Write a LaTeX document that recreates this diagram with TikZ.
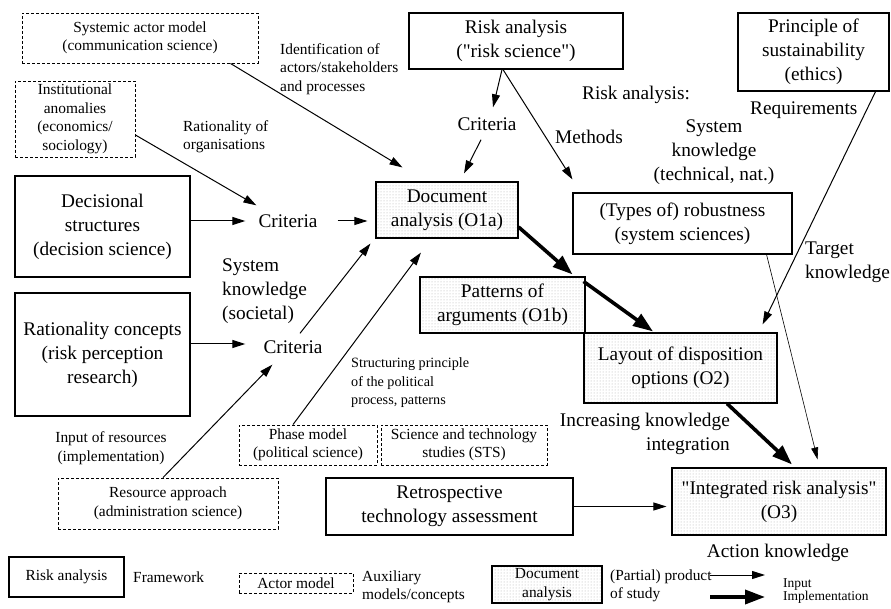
\documentclass[tikz,border=0pt]{standalone}
\usepackage{fontspec}
\setmainfont{Liberation Serif}[Ligatures=TeXOff]
\usetikzlibrary{arrows.meta,patterns}

\newcommand\bigsz{\fontsize{19.3}{24}\selectfont}
\newcommand\midsz{\fontsize{15.4}{18.5}\selectfont}
\newcommand\smallsz{\fontsize{14.2}{18.5}\selectfont}
\newcommand\tinysz{\fontsize{13.5}{13.5}\selectfont}

\tikzset{
  every node/.style={inner sep=0pt, align=center},
  bigtxt/.style={font=\bigsz},
  midtxt/.style={font=\midsz},
  smalltxt/.style={font=\smallsz},
  tinytxt/.style={font=\tinysz},
  frame/.style={draw, line width=1.1pt},
  auxbox/.style={draw, line width=0.9pt, dash pattern=on 3pt off 2pt},
  product/.style={draw, line width=1.1pt, pattern=dots, pattern color=gray!65},
  inarrow/.style={line width=1pt, -{Triangle[length=13pt,width=8pt]}},
  thinarrow/.style={line width=0.6pt, -{Triangle[length=12pt,width=7pt]}},
  implarrow/.style={line width=3.6pt, -{Triangle[length=20pt,width=14pt]}},
}

\begin{document}
\begin{tikzpicture}[x=1pt,y=-1pt]
\useasboundingbox (0,0) rectangle (891,609);

% ---------- framework disciplines (solid) ----------
\node[frame, bigtxt, minimum width=175pt, minimum height=101pt] (decis) at (102.5,226.5)
  {Decisional\\structures\\(decision science)};
\node[frame, bigtxt, minimum width=175pt, minimum height=123pt] (ratcon) at (102.5,354.5)
  {Rationality concepts\\(risk perception\\research)};
\node[frame, bigtxt, minimum width=214pt, minimum height=56pt] (riskan) at (516,41)
  {Risk analysis\\("risk science")};
\node[frame, bigtxt, minimum width=151pt, minimum height=78pt] (sustain) at (813.5,52)
  {Principle of\\sustainability\\(ethics)};
\node[frame, bigtxt, minimum width=219pt, minimum height=61pt] (robust) at (682.5,223.5)
  {(Types of) robustness\\(system sciences)};
\node[frame, bigtxt, minimum width=247pt, minimum height=57pt] (retro) at (449.5,506.5)
  {Retrospective\\technology assessment};

% ---------- auxiliary models (dashed) ----------
\node[auxbox, midtxt, minimum width=236pt, minimum height=50pt] (sysact) at (140,38)
  {Systemic actor model\\(communication science)};
\node[auxbox, midtxt, minimum width=120pt, minimum height=76pt] (instanom) at (75,119)
  {Institutional\\anomalies\\(economics/\\sociology)};
\node[auxbox, midtxt, minimum width=138pt, minimum height=40pt] (phase) at (308,445)
  {Phase model\\(political science)};
\node[auxbox, midtxt, minimum width=166pt, minimum height=40pt] (sts) at (464,445)
  {Science and technology\\studies (STS)};
\node[auxbox, midtxt, minimum width=220pt, minimum height=51pt] (resource) at (168,503.5)
  {Resource approach\\(administration science)};

% ---------- products of the study (dotted) ----------
\node[product, bigtxt, minimum width=142pt, minimum height=56pt] (doc) at (447,210)
  {Document\\analysis (O1a)};
\node[product, bigtxt, minimum width=165pt, minimum height=56pt] (patt) at (502.5,305)
  {Patterns of\\arguments (O1b)};
\node[product, bigtxt, minimum width=193pt, minimum height=70pt] (layout) at (680.5,368)
  {Layout of disposition\\options (O2)};
\node[product, bigtxt, minimum width=214pt, minimum height=67pt] (o3) at (779,501.5)
  {"Integrated risk analysis"\\(O3)};

% ---------- criteria ----------
\node[bigtxt] (crit1) at (288,221) {Criteria};
\node[bigtxt] (crit2) at (487,124) {Criteria};
\node[bigtxt] (crit3) at (293,347) {Criteria};

% ---------- labels ----------
\node[midtxt, anchor=west, align=left] (lblident) at (280,69)
  {Identification of\\actors/stakeholders\\and processes};
\node[midtxt, anchor=west, align=left] (lblratorg) at (183,136.5)
  {Rationality of\\organisations};
\node[bigtxt, anchor=west, align=left] (lblsyssoc) at (222,291)
  {System\\knowledge\\(societal)};
\node[bigtxt, anchor=west] (lblra) at (582,95) {Risk analysis:};
\node[bigtxt, anchor=west] (lblreq) at (750,110) {Requirements};
\node[bigtxt, anchor=west] (lblmeth) at (555,137) {Methods};
\node[bigtxt] (lblsystech) at (714,152) {System\\knowledge\\(technical, nat.)};
\node[bigtxt, anchor=west, align=left] (lbltarget) at (805,262.5) {Target\\knowledge};
\node[bigtxt, anchor=east, align=right] (lblincr) at (730,433.5)
  {Increasing knowledge\\integration};
\node[bigtxt] (lblaction) at (778,553) {Action knowledge};
\node[smalltxt, anchor=west, align=left] (lblstruct) at (351,383)
  {Structuring principle\\of the political\\process, patterns};
\node[midtxt] (lblinput) at (111,448) {Input of resources\\(implementation)};

% ---------- input connectors ----------
\draw[inarrow] ([xshift=-28pt]sysact.south east) -- ([xshift=27pt,yshift=14pt]doc.north west);
\draw[inarrow] ([yshift=-16pt]instanom.east) -- ([xshift=-2pt,yshift=9pt]crit1.north west);
\draw[inarrow] (decis.east |- crit1.west) -- ([xshift=-13pt]crit1.west);
\draw[inarrow, shorten >=8pt] ([xshift=20pt]crit1.east) -- (doc.west |- crit1.east);
\draw[inarrow] ([xshift=-14pt]riskan.south) -- ([xshift=6pt,yshift=10pt]crit2.north);
\draw[inarrow] ([xshift=-6pt,yshift=-9pt]crit2.south) -- ([xshift=17pt,yshift=8pt]doc.north);
\draw[inarrow] ([xshift=-13pt]riskan.south) -- ([yshift=13pt]robust.north west);
\draw[inarrow] ([xshift=-14pt]sustain.south east) -- ([xshift=-15pt,yshift=8pt]layout.north east);
\draw[thinarrow] ([xshift=-26pt]robust.south east) -- ([xshift=-69pt,yshift=8pt]o3.north east);
\draw[inarrow, shorten >=5pt] (retro.east) -- (o3.west |- retro.east);
\draw[inarrow] ([yshift=10.5pt]ratcon.east) -- ([xshift=-18pt,yshift=3pt]crit3.west);
\draw[inarrow] ([xshift=7pt,yshift=7pt]crit3.north) -- ([xshift=-5pt,yshift=-5pt]doc.south west);
\draw[inarrow] ([xshift=-5pt]resource.north) -- ([xshift=9pt,yshift=-11pt]crit3.south west);
\draw[inarrow] ([xshift=-15pt]phase.north) -- ([xshift=-26pt,yshift=-14pt]doc.south);

% ---------- implementation connectors ----------
\draw[implarrow] ([yshift=-17pt]doc.east) -- ([xshift=-13pt,yshift=2pt]patt.north east);
\draw[implarrow] ([xshift=-2pt,yshift=-5pt]patt.north east) -- ([xshift=-27.5pt,yshift=1pt]layout.north);
\draw[implarrow] ([xshift=46.5pt]layout.south) -- ([xshift=13pt,yshift=3pt]o3.north);

% ---------- legend ----------
\node[frame, midtxt, minimum width=115pt, minimum height=40pt] (legframe) at (66.5,577)
  {Risk analysis};
\node[midtxt, anchor=west] (legframetxt) at (133,577) {Framework};
\node[auxbox, midtxt, minimum width=114pt, minimum height=20pt] (legaux) at (296,583)
  {Actor model};
\node[midtxt, anchor=west, align=left] (legauxtxt) at (362,587) {Auxiliary\\models/concepts};
\node[product, midtxt, minimum width=110pt, minimum height=37pt] (legprod) at (547,584.5)
  {Document\\analysis};
\node[midtxt, anchor=west, align=left] (legprodtxt) at (610,586) {(Partial) product\\of study};
\node[tinytxt, anchor=west, align=left] (legarrtxt) at (783,591) {Input\\Implementation};
\coordinate (leginA) at (710,575);
\coordinate (leginB) at (765,575);
\coordinate (legimA) at (710,597);
\coordinate (legimB) at (765,597);
\draw[inarrow] (leginA) -- (leginB);
\draw[implarrow] (legimA) -- (legimB);

\end{tikzpicture}
\end{document}
